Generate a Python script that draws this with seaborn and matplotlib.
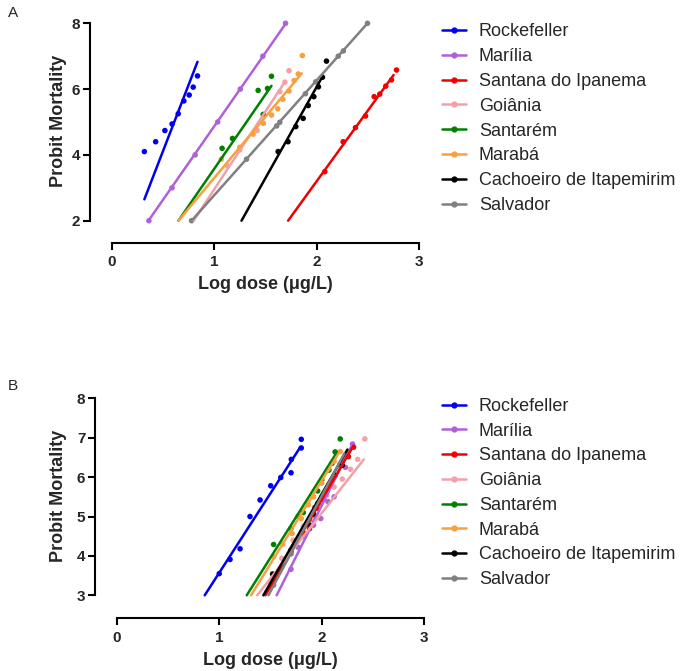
import matplotlib
matplotlib.use("Agg")
import matplotlib.pyplot as plt
from matplotlib.lines import Line2D
import pandas as pd
import seaborn as sns

sns.set_style("white")
plt.rcParams["font.family"] = ["Liberation Sans", "DejaVu Sans"]

populations = ["Rockefeller", "Marília", "Santana do Ipanema", "Goiânia",
               "Santarém", "Marabá", "Cachoeiro de Itapemirim", "Salvador"]
colors = ["#0000F0", "#B060D8", "#F00000", "#F4A0A8",
          "#008000", "#F8A040", "#000000", "#808080"]

# panel A - observed points (log dose, probit)
a_rock_x = [0.32, 0.43, 0.52, 0.59, 0.65, 0.705, 0.757, 0.796, 0.838]
a_rock_y = [4.10, 4.40, 4.74, 4.94, 5.25, 5.64, 5.82, 6.06, 6.40]
a_mari_x = [0.364, 0.59, 0.815, 1.035, 1.255, 1.475, 1.696]
a_mari_y = [2.0, 3.0, 4.0, 5.0, 6.0, 7.0, 8.0]
a_sant_x = [2.079, 2.258, 2.378, 2.476, 2.56, 2.615, 2.673, 2.729, 2.778]
a_sant_y = [3.49, 4.40, 4.83, 5.18, 5.77, 5.85, 6.09, 6.28, 6.58]
a_goia_x = [1.13, 1.25, 1.42, 1.64, 1.69, 1.73]
a_goia_y = [3.67, 4.15, 4.74, 5.92, 6.21, 6.56]
a_stm_x = [1.078, 1.179, 1.429, 1.478, 1.52, 1.559]
a_stm_y = [4.20, 4.50, 5.96, 5.23, 6.02, 6.39]
a_mara_x = [1.07, 1.25, 1.38, 1.48, 1.56, 1.62, 1.67, 1.73, 1.78, 1.82, 1.86]
a_mara_y = [3.87, 4.23, 4.63, 4.96, 5.21, 5.40, 5.69, 5.94, 6.26, 6.46, 7.02]
a_cach_x = [1.624, 1.72, 1.796, 1.868, 1.917, 1.972, 2.017, 2.056, 2.095]
a_cach_y = [4.10, 4.40, 4.86, 5.11, 5.50, 5.77, 6.07, 6.36, 6.85]
a_salv_x = [0.78, 1.316, 1.61, 1.64, 1.89, 1.99, 2.21, 2.26, 2.495]
a_salv_y = [2.0, 3.87, 4.88, 4.99, 5.86, 6.22, 7.0, 7.16, 8.0]

# panel A - fitted probit lines (start / end)
a_fit_x0 = [0.32, 0.36, 1.721, 0.80, 0.652, 0.652, 1.267, 0.78]
a_fit_y0 = [2.65, 2.0, 2.0, 2.0, 2.0, 2.0, 2.0, 2.0]
a_fit_x1 = [0.838, 1.70, 2.75, 1.69, 1.559, 1.855, 2.056, 2.495]
a_fit_y1 = [6.83, 8.0, 6.43, 6.22, 6.10, 6.48, 6.38, 8.0]

# panel B - observed points
b_rock_x = [1.0, 1.105, 1.203, 1.30, 1.398, 1.502, 1.60, 1.70, 1.703, 1.80, 1.80]
b_rock_y = [3.55, 3.91, 4.18, 5.0, 5.42, 5.78, 5.99, 6.11, 6.45, 6.74, 6.96]
b_mari_x = [1.70, 1.77, 1.83, 1.92, 1.99, 2.06, 2.12, 2.23, 2.30]
b_mari_y = [3.66, 4.22, 4.49, 4.78, 4.95, 5.38, 5.5, 6.25, 6.84]
b_sant_x = [1.52, 1.70, 1.82, 1.88, 1.92, 1.96, 2.01, 2.10, 2.18, 2.26, 2.31]
b_sant_y = [3.42, 4.10, 4.59, 4.69, 4.93, 5.21, 5.44, 5.9, 6.33, 6.52, 6.76]
b_goia_x = [1.50, 1.61, 1.72, 1.82, 1.90, 1.98, 2.05, 2.12, 2.20, 2.28, 2.35, 2.42]
b_goia_y = [3.3, 3.94, 4.40, 4.75, 4.95, 5.3, 5.55, 5.75, 5.95, 6.2, 6.45, 6.97]
b_stm_x = [1.53, 1.70, 1.77, 1.82, 1.96, 2.0, 2.07, 2.10, 2.13, 2.18]
b_stm_y = [4.29, 4.70, 5.0, 5.10, 5.65, 5.93, 6.18, 6.35, 6.64, 6.97]
b_mara_x = [1.53, 1.62, 1.71, 1.80, 1.87, 1.92, 2.0, 2.06, 2.12, 2.18]
b_mara_y = [3.98, 4.3, 4.57, 4.95, 5.3, 5.5, 5.85, 6.2, 6.4, 6.65]
b_cach_x = [1.52, 1.70, 1.87, 1.92, 1.96, 2.05, 2.13, 2.2]
b_cach_y = [3.54, 4.15, 4.81, 5.06, 5.33, 5.65, 6.04, 6.3]
b_salv_x = [1.53, 1.70, 1.88, 1.93, 2.0, 2.07, 2.12, 2.2]
b_salv_y = [3.26, 4.05, 4.9, 5.23, 5.5, 5.8, 6.0, 6.4]

b_fit_x0 = [0.858, 1.56, 1.45, 1.37, 1.268, 1.31, 1.43, 1.48]
b_fit_y0 = [3.0, 3.0, 3.0, 3.0, 3.0, 3.0, 3.0, 3.0]
b_fit_x1 = [1.79, 2.30, 2.31, 2.41, 2.15, 2.18, 2.25, 2.22]
b_fit_y1 = [6.76, 6.84, 6.8, 6.45, 6.64, 6.67, 6.7, 6.6]

a_pts = [(a_rock_x, a_rock_y), (a_mari_x, a_mari_y), (a_sant_x, a_sant_y),
         (a_goia_x, a_goia_y), (a_stm_x, a_stm_y), (a_mara_x, a_mara_y),
         (a_cach_x, a_cach_y), (a_salv_x, a_salv_y)]
b_pts = [(b_rock_x, b_rock_y), (b_mari_x, b_mari_y), (b_sant_x, b_sant_y),
         (b_goia_x, b_goia_y), (b_stm_x, b_stm_y), (b_mara_x, b_mara_y),
         (b_cach_x, b_cach_y), (b_salv_x, b_salv_y)]


def build(pts, x0, y0, x1, y1):
    rows, fits = [], []
    for name, (xs, ys) in zip(populations, pts):
        for xv, yv in zip(xs, ys):
            rows.append({"population": name, "dose": xv, "probit": yv})
    for i, name in enumerate(populations):
        fits.append({"population": name, "dose": x0[i], "probit": y0[i]})
        fits.append({"population": name, "dose": x1[i], "probit": y1[i]})
    return pd.DataFrame(rows), pd.DataFrame(fits)


palette = dict(zip(populations, colors))
W, H = 682, 671
fig = plt.figure(figsize=(W / 100, H / 100), dpi=100)

# (left px, top px, bottom px, y range, yticks, xlim left, panel)
panels = [
    (90, 20, 243, (1.322, 8.1), [2, 4, 6, 8], -0.21, "A",
     build(a_pts, a_fit_x0, a_fit_y0, a_fit_x1, a_fit_y1)),
    (95, 394.4, 618.3, (2.416, 8.1), [3, 4, 5, 6, 7, 8], -0.212, "B",
     build(b_pts, b_fit_x0, b_fit_y0, b_fit_x1, b_fit_y1)),
]

for left, top, bottom, ylim, yticks, xl, label, (pts, fits) in panels:
    ax = fig.add_axes([left / W, 1 - bottom / H, 329.3 / W, (bottom - top) / H])
    sns.lineplot(data=fits, x="dose", y="probit", hue="population",
                 hue_order=populations, palette=palette, estimator=None,
                 sort=False, linewidth=1.8, legend=False, ax=ax)
    sns.scatterplot(data=pts, x="dose", y="probit", hue="population",
                    hue_order=populations, palette=palette, s=16,
                    linewidth=0, legend=False, clip_on=False, ax=ax)
    ax.set_xlim(xl, 3.0)
    ax.set_ylim(*ylim)
    ax.set_xticks([0, 1, 2, 3])
    ax.set_yticks(yticks)
    ax.spines["top"].set_visible(False)
    ax.spines["right"].set_visible(False)
    ax.spines["bottom"].set_bounds(0, 3)
    ax.spines["left"].set_bounds(yticks[0], yticks[-1])
    for s in ("bottom", "left"):
        ax.spines[s].set_linewidth(1.5)
        ax.spines[s].set_color("black")
    ax.tick_params(axis="both", length=5, width=1.5, color="black",
                   labelsize=11, bottom=True, left=True)
    ax.tick_params(axis="x", pad=4)
    ax.tick_params(axis="y", pad=2)
    for t in ax.get_xticklabels() + ax.get_yticklabels():
        t.set_fontweight("bold")
    ax.grid(False)
    ax.set_xlabel("Log dose (μg/L)", fontsize=13, fontweight="bold")
    ax.set_ylabel("Probit Mortality", fontsize=13, fontweight="bold")
    ax.xaxis.set_label_coords(0.533, -0.15)
    ax.yaxis.set_label_coords((67 - left) / 329.3, 0.548)

    handles = [Line2D([], [], color=c, lw=1.8, marker="o", markersize=3.5)
               for c in colors]
    fig.legend(handles, populations, loc="upper left",
               bbox_to_anchor=(441.7 / W, 1 - (top + 3.5) / H),
               bbox_transform=fig.transFigure, frameon=False, fontsize=13,
               handlelength=1.35, handletextpad=0.7, labelspacing=0.43,
               borderpad=0, borderaxespad=0)
    fig.text(8 / W, 1 - (top - 14 if label == "A" else top - 15) / H, label,
             fontsize=11, va="top", ha="left")

fig.savefig("out.png", dpi=100)
